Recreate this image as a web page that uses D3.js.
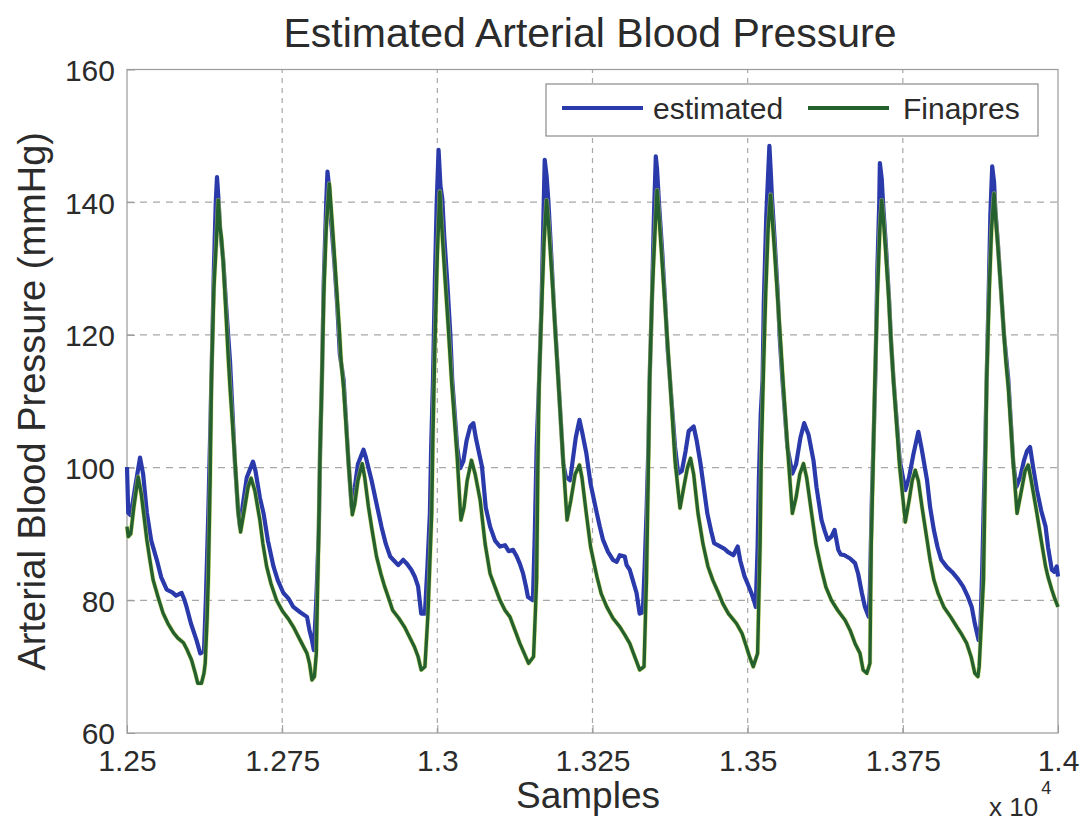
<!DOCTYPE html>
<html>
<head>
<meta charset="utf-8">
<script src="https://cdn.jsdelivr.net/npm/d3@7"></script>
<style>
  body { margin: 0; background: #fff; }
  svg text { font-family: "Liberation Sans", Arial, sans-serif; fill: #2b2b2b; }
</style>
</head>
<body>
<div id="chart"></div>
<script>
// data: [sample, mmHg]
var estimated = [
  [12500,100.1],[12502,93.2],[12506,92.8],[12513,97],[12521,101.5],[12526,99],[12532,93.2],[12539,89],
  [12548,86.1],[12555,83.5],[12564,81.6],[12573,81.2],[12579,80.7],[12588,81.1],[12592,80.2],[12596,79],
  [12603,76.5],[12612,74],[12618,72],[12624,72.3],[12627,80],[12631,93.2],[12634,105],[12636,113.2],
  [12640,130],[12643,140],[12645,143.8],[12647,141],[12650,136],[12655,131.3],[12660,124],[12666,116],
  [12674,100.6],[12679,93.5],[12682,91.1],[12686,94],[12693,98.5],[12703,100.9],[12707,99.5],[12714,95.5],
  [12720,93.1],[12727,89],[12736,85.1],[12743,83],[12752,81.1],[12760,80.3],[12768,79],[12779,78.2],
  [12790,77.5],[12794,75.5],[12798,74],[12801,72.5],[12805,80],[12809,90.6],[12811,102],[12814,113.2],
  [12817,128],[12821,140],[12823,144.6],[12826,142],[12829,137],[12834,131],[12839,124],[12843,117],
  [12849,113.2],[12857,100.6],[12862,94.1],[12867,97],[12872,100.5],[12881,102.7],[12885,101.5],[12894,98.1],
  [12901,95],[12910,91.1],[12917,88.5],[12924,86.6],[12930,86],[12937,85.3],[12945,86.1],[12951,85.5],
  [12958,84.6],[12964,83.5],[12969,82.1],[12974,78],[12980,78],[12984,85],[12988,93.1],[12990,103],
  [12993,113.2],[12996,128],[12999,140],[13002,147.9],[13005,142.5],[13008,140.5],[13011,135],[13016,128],
  [13021,120],[13024,113.2],[13032,103.1],[13037,99.9],[13042,101],[13047,104],[13053,106.2],[13058,106.7],
  [13062,104.5],[13072,100.1],[13078,94],[13085,91.1],[13093,89],[13101,88.1],[13109,88.3],[13115,87.4],
  [13122,87.6],[13128,86.6],[13133,85.5],[13138,84.1],[13143,82],[13146,80.5],[13154,80],[13157,90],
  [13160,103.1],[13164,113.2],[13168,125],[13171,138],[13173,146.4],[13176,144],[13179,140],[13183,133],
  [13188,124],[13195,113.2],[13203,100.6],[13207,98.6],[13214,98.1],[13218,101],[13223,104.5],[13229,107.2],
  [13233,105.5],[13240,102.2],[13247,97.5],[13257,93.1],[13262,91],[13267,89.1],[13275,87.3],[13283,86.1],
  [13289,85.8],[13294,86.8],[13302,86.6],[13305,85.3],[13310,84.6],[13315,83],[13321,81.1],[13326,78],
  [13331,78.2],[13334,85],[13337,93.1],[13340,103],[13342,113.2],[13346,126],[13349,138],[13352,146.9],
  [13354,145],[13357,140],[13362,133],[13367,125],[13371,118],[13375,113],[13383,103.1],[13388,99.1],
  [13394,99.5],[13400,102.5],[13405,105.5],[13413,106.2],[13418,104],[13424,100.6],[13430,96.5],[13435,93.1],
  [13441,90.5],[13446,88.6],[13454,88.2],[13462,87.8],[13468,87.3],[13477,86.8],[13484,88.1],[13488,86],
  [13495,83.6],[13500,82.5],[13506,81.1],[13510,80],[13513,79],[13516,88],[13518,98],[13521,108],
  [13524,113.2],[13526,125],[13530,138],[13535,148.5],[13537,145],[13539,141],[13543,135],[13548,127],
  [13552,119],[13556,113.2],[13564,103.1],[13572,99.1],[13578,100.5],[13585,104.5],[13591,106.7],[13598,105],
  [13606,101.1],[13611,97],[13619,92.1],[13624,90.5],[13629,89.1],[13635,89.6],[13640,90.6],[13646,87.6],
  [13650,86.9],[13656,86.8],[13665,86.3],[13673,85.6],[13678,84],[13684,81.1],[13689,79],[13695,77.5],
  [13697,82],[13700,95],[13704,108],[13706,115],[13709,130],[13712,140],[13713,145.9],[13716,143.5],
  [13718,140],[13723,133],[13728,125],[13731,119],[13735,113.2],[13745,101.1],[13754,96.6],[13760,98.5],
  [13767,102],[13775,105.4],[13780,103],[13789,98.1],[13794,94],[13800,90.6],[13806,88],[13812,86.1],
  [13821,85],[13831,84.1],[13839,83.2],[13847,82.1],[13855,80.5],[13861,79],[13866,76.5],[13872,74],
  [13875,76],[13878,85],[13880,93.1],[13883,104],[13885,113.2],[13888,125],[13891,138],[13894,145.4],
  [13897,143],[13899,139],[13903,134],[13908,127],[13913,120],[13920,113.2],[13928,100.6],[13933,97.1],
  [13939,98.5],[13945,101],[13950,102.5],[13955,103.1],[13960,100],[13966,96.6],[13973,93.5],[13980,91.1],
  [13984,88],[13990,84.6],[13994,84.3],[13998,85.1],[14000,83.6]
];

var finapres = [
  [12500,91.1],[12502,89.6],[12506,90],[12511,94],[12518,98.6],[12523,96],[12532,89.1],[12537,86],
  [12542,83.1],[12550,80.5],[12558,78.1],[12566,76.5],[12575,75.1],[12582,74.3],[12591,73.6],[12597,72.5],
  [12604,71],[12610,69],[12614,67.5],[12620,67.5],[12624,69],[12626,70.5],[12629,77],[12631,83.1],
  [12634,98],[12636,113.2],[12640,127],[12644,134],[12647,140.3],[12650,136],[12652,134.8],[12655,131],
  [12659,124],[12663,116.8],[12666,112],[12674,101],[12679,93.5],[12683,90.3],[12688,93],[12695,97],
  [12700,98.4],[12706,96.5],[12714,92.1],[12719,88.5],[12725,85.1],[12732,82.5],[12741,80],[12751,78.3],
  [12760,77.2],[12768,76],[12779,74],[12790,72],[12794,70.5],[12798,68],[12802,68.5],[12805,72],
  [12809,90.6],[12811,102],[12814,113.2],[12817,126],[12821,136],[12826,142.8],[12829,139],[12832,135],
  [12837,128],[12842,121],[12845,116],[12849,112],[12857,100.6],[12863,92.9],[12867,94.5],[12872,98],
  [12879,100.6],[12883,98.5],[12889,94.1],[12895,90.5],[12902,86.6],[12909,84],[12915,82.1],[12922,80.2],
  [12928,78.5],[12938,77.3],[12947,76],[12955,74.5],[12963,73],[12969,71.5],[12974,69.5],[12980,70],
  [12985,78.1],[12991,93.2],[12993,105],[12996,118],[13000,132],[13004,141.6],[13006,138],[13009,133.5],
  [13012,129],[13017,122],[13023,113],[13032,101.5],[13038,92.1],[13043,94],[13048,98],[13055,101.1],
  [13061,99],[13069,95.1],[13077,88.5],[13085,84],[13093,82],[13101,80],[13109,78.5],[13117,77.5],
  [13125,75.5],[13133,73.5],[13140,72],[13147,70.5],[13155,71.5],[13157,76],[13160,83.1],[13162,100],
  [13164,113],[13168,124],[13172,134],[13176,140.3],[13179,137],[13181,134],[13186,127],[13191,119],
  [13195,113],[13203,100.6],[13209,92.1],[13215,95],[13222,99],[13229,100.4],[13233,98.5],[13240,93.1],
  [13247,88],[13257,83.6],[13264,81],[13273,79],[13283,77.3],[13294,76],[13302,74.8],[13310,73.5],
  [13318,71.5],[13326,69.5],[13333,70],[13337,83.1],[13340,100],[13342,113],[13346,126],[13351,136],
  [13354,141.8],[13357,138],[13360,134],[13365,127],[13370,120],[13375,113],[13383,101],[13391,93.9],
  [13397,97],[13403,100],[13408,101.4],[13413,99],[13420,93.1],[13428,88.5],[13436,85.1],[13444,83],
  [13453,81.1],[13460,79.5],[13469,78],[13482,76.5],[13491,75],[13498,73],[13503,71.5],[13509,70],
  [13516,72],[13520,88.1],[13522,102],[13525,113],[13529,126],[13533,136],[13537,141.1],[13540,137],
  [13543,133],[13548,126],[13553,119],[13557,113],[13565,102],[13572,93.1],[13578,95.5],[13584,99],
  [13590,100.6],[13595,98.5],[13603,93.1],[13610,88.5],[13619,84.6],[13626,82],[13635,80],[13645,78.5],
  [13657,77],[13665,75.5],[13673,73.5],[13681,72],[13686,69.5],[13692,69],[13697,70.5],[13699,88],
  [13702,100],[13705,113],[13709,126],[13713,136],[13716,140.3],[13719,137],[13722,133],[13727,126],
  [13731,119],[13735,113],[13745,100],[13754,91.8],[13760,95],[13765,98],[13770,99.6],[13775,98],
  [13781,94],[13789,89.1],[13794,86],[13800,83.1],[13807,81],[13816,79],[13827,77.5],[13837,76],
  [13844,75],[13853,73.5],[13860,71.5],[13866,69],[13871,68.5],[13873,70],[13880,83.1],[13883,100],
  [13885,113],[13889,126],[13893,136],[13897,141.3],[13900,137],[13903,133.5],[13908,127],[13913,120],
  [13916,116],[13920,112],[13928,100.6],[13934,93.1],[13940,96],[13947,99.5],[13952,100.4],[13956,98.5],
  [13966,93.1],[13973,89],[13980,85.1],[13984,83.5],[13990,81.6],[13995,80.2],[14000,79]
];

var xTicks = [12500, 12750, 13000, 13250, 13500, 13750, 14000];
var xTickLabels = ["1.25", "1.275", "1.3", "1.325", "1.35", "1.375", "1.4"];
var yTicks = [60, 80, 100, 120, 140, 160];
var seriesNames = ["estimated", "Finapres"];
var seriesColors = ["#2a3aab", "#25602f"];

var W = 1084, H = 826;
var margin = {top: 69.5, right: 26, bottom: 93, left: 127};

var svg = d3.select("#chart").append("svg")
  .attr("width", W)
  .attr("height", H);

var x = d3.scaleLinear().domain([12500, 14000]).range([margin.left, W - margin.right]);
var y = d3.scaleLinear().domain([60, 160]).range([H - margin.bottom, margin.top]);

// grid
svg.append("g").selectAll("line.vg")
  .data(xTicks.slice(1, -1)).enter().append("line")
  .attr("x1", function(d) { return x(d); }).attr("x2", function(d) { return x(d); })
  .attr("y1", y(60)).attr("y2", y(160))
  .attr("stroke", "#a8a8a8").attr("stroke-width", 1.2)
  .attr("stroke-dasharray", "5,5");

svg.append("g").selectAll("line.hg")
  .data(yTicks.slice(1, -1)).enter().append("line")
  .attr("x1", x(12500)).attr("x2", x(14000))
  .attr("y1", function(d) { return y(d); }).attr("y2", function(d) { return y(d); })
  .attr("stroke", "#a8a8a8").attr("stroke-width", 1.2)
  .attr("stroke-dasharray", "7,6");

// axes box
svg.append("rect")
  .attr("x", x(12500)).attr("y", y(160))
  .attr("width", x(14000) - x(12500)).attr("height", y(60) - y(160))
  .attr("fill", "none").attr("stroke", "#9a9a9a").attr("stroke-width", 1.2);

// ticks + labels
var xAxis = d3.axisBottom(x).tickValues(xTicks)
  .tickFormat(function(d, i) { return xTickLabels[i]; })
  .tickSizeInner(-8).tickSizeOuter(0).tickPadding(17);
var gx = svg.append("g").attr("transform", "translate(0," + y(60) + ")").call(xAxis);
gx.select(".domain").remove();
gx.selectAll("line").attr("stroke", "#9a9a9a");
gx.selectAll("text").style("font-size", "30px").attr("fill", "#2b2b2b");

var yAxis = d3.axisLeft(y).tickValues(yTicks)
  .tickSizeInner(-8).tickSizeOuter(0).tickPadding(12);
var gy = svg.append("g").attr("transform", "translate(" + x(12500) + ",0)").call(yAxis);
gy.select(".domain").remove();
gy.selectAll("line").attr("stroke", "#9a9a9a");
gy.selectAll("text").style("font-size", "30px").attr("fill", "#2b2b2b").attr("dy", "0.36em");

// lines
var line = d3.line()
  .x(function(d) { return x(d[0]); })
  .y(function(d) { return y(d[1]); });

svg.append("path").datum(estimated)
  .attr("d", line).attr("fill", "none")
  .attr("stroke", seriesColors[0]).attr("stroke-width", 4.2)
  .attr("stroke-linejoin", "round");

// faint yellow fringe seen around the green trace
svg.append("path").datum(finapres)
  .attr("d", line).attr("fill", "none")
  .attr("stroke", "#c9d84a").attr("stroke-width", 4.6).attr("opacity", 0.6)
  .attr("stroke-linejoin", "round");
svg.append("path").datum(finapres)
  .attr("d", line).attr("fill", "none")
  .attr("stroke", seriesColors[1]).attr("stroke-width", 3.4)
  .attr("stroke-linejoin", "round");

// title + axis labels
svg.append("text")
  .attr("x", 590).attr("y", 47)
  .attr("text-anchor", "middle")
  .style("font-size", "41px")
  .text("Estimated Arterial Blood Pressure");

svg.append("text")
  .attr("x", 588).attr("y", 808)
  .attr("text-anchor", "middle")
  .style("font-size", "37px")
  .text("Samples");

svg.append("text")
  .attr("transform", "translate(45," + ((y(60) + y(160)) / 2) + ") rotate(-90)")
  .attr("text-anchor", "middle")
  .style("font-size", "38px")
  .text("Arterial Blood Pressure (mmHg)");

var mult = svg.append("text").attr("x", 989).attr("y", 816).style("font-size", "26px");
mult.append("tspan").text("x 10");
mult.append("tspan").attr("dx", 3).attr("dy", -22).style("font-size", "18px").text("4");

// legend
var legend = svg.append("g");
legend.append("rect")
  .attr("x", 546).attr("y", 84).attr("width", 492).attr("height", 52)
  .attr("fill", "#fff").attr("stroke", "#8a8a8a").attr("stroke-width", 1.2);

var legendItems = [
  {line: [562, 643], textX: 653},
  {line: [808, 889], textX: 903}
];
legendItems.forEach(function(it, i) {
  legend.append("line")
    .attr("x1", it.line[0]).attr("x2", it.line[1])
    .attr("y1", 108).attr("y2", 108)
    .attr("stroke", seriesColors[i]).attr("stroke-width", 4);
  legend.append("text")
    .attr("x", it.textX).attr("y", 119)
    .style("font-size", "30px")
    .text(seriesNames[i]);
});
</script>
</body>
</html>
